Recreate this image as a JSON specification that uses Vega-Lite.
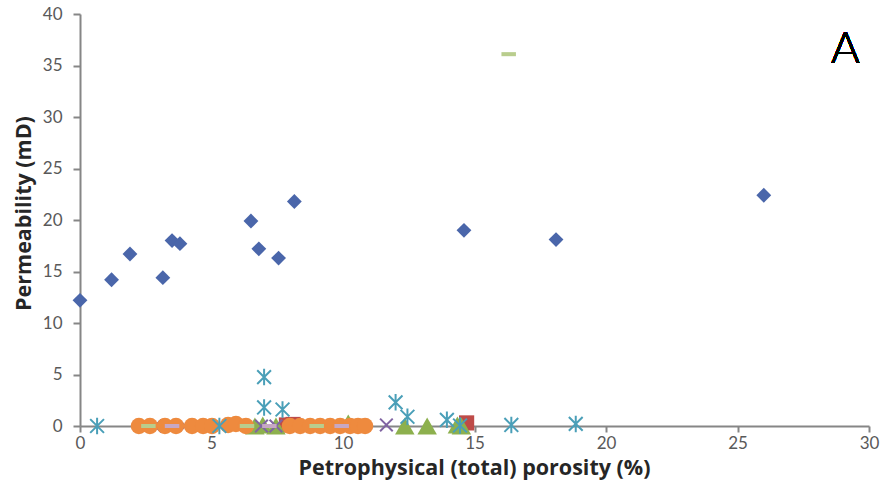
{
  "$schema": "https://vega.github.io/schema/vega-lite/v6.json",
  "width": 789,
  "height": 412,
  "autosize": {"type": "none"},
  "padding": {"left": 80, "top": 14, "right": 12, "bottom": 73},
  "background": "white",
  "config": {"view": {"stroke": null}, "font": "Lato"},
  "data": {"values": [
    {"s": "D", "x": 0.0, "y": 12.2},
    {"s": "D", "x": 1.2, "y": 14.2},
    {"s": "D", "x": 1.9, "y": 16.7},
    {"s": "D", "x": 3.15, "y": 14.4},
    {"s": "D", "x": 3.5, "y": 18.0},
    {"s": "D", "x": 3.8, "y": 17.7},
    {"s": "D", "x": 6.5, "y": 19.9},
    {"s": "D", "x": 6.8, "y": 17.2},
    {"s": "D", "x": 7.55, "y": 16.3},
    {"s": "D", "x": 8.15, "y": 21.8},
    {"s": "D", "x": 14.6, "y": 19.0},
    {"s": "D", "x": 18.1, "y": 18.1},
    {"s": "D", "x": 26.0, "y": 22.4},
    {"s": "Sq", "x": 7.85, "y": 0.1},
    {"s": "Sq", "x": 8.1, "y": 0.15},
    {"s": "Sq", "x": 14.7, "y": 0.3},
    {"s": "T", "x": 6.65, "y": 0.0},
    {"s": "T", "x": 6.95, "y": 0.1},
    {"s": "T", "x": 7.45, "y": 0.0},
    {"s": "T", "x": 10.2, "y": 0.3},
    {"s": "T", "x": 12.35, "y": 0.0},
    {"s": "T", "x": 13.2, "y": 0.0},
    {"s": "T", "x": 14.35, "y": 0.1},
    {"s": "T", "x": 14.5, "y": 0.0},
    {"s": "X", "x": 2.85, "y": 0.0},
    {"s": "X", "x": 4.0, "y": 0.0},
    {"s": "X", "x": 4.55, "y": 0.0},
    {"s": "X", "x": 6.9, "y": 0.0},
    {"s": "X", "x": 7.45, "y": 0.0},
    {"s": "X", "x": 11.65, "y": 0.1},
    {"s": "Ast", "x": 0.65, "y": 0.0},
    {"s": "Ast", "x": 5.3, "y": 0.0},
    {"s": "Ast", "x": 7.0, "y": 4.75},
    {"s": "Ast", "x": 7.0, "y": 1.8},
    {"s": "Ast", "x": 7.7, "y": 1.6},
    {"s": "Ast", "x": 12.0, "y": 2.3},
    {"s": "Ast", "x": 12.45, "y": 0.9},
    {"s": "Ast", "x": 13.95, "y": 0.6},
    {"s": "Ast", "x": 14.45, "y": 0.05},
    {"s": "Ast", "x": 16.4, "y": 0.1},
    {"s": "Ast", "x": 18.85, "y": 0.2},
    {"s": "C", "x": 2.24, "y": 0.0},
    {"s": "C", "x": 2.66, "y": 0.0},
    {"s": "C", "x": 3.23, "y": 0.0},
    {"s": "C", "x": 3.65, "y": 0.0},
    {"s": "C", "x": 4.26, "y": 0.0},
    {"s": "C", "x": 4.68, "y": 0.0},
    {"s": "C", "x": 5.02, "y": 0.0},
    {"s": "C", "x": 5.63, "y": 0.1},
    {"s": "C", "x": 5.93, "y": 0.2},
    {"s": "C", "x": 6.31, "y": 0.0},
    {"s": "C", "x": 7.98, "y": 0.0},
    {"s": "C", "x": 8.37, "y": 0.0},
    {"s": "C", "x": 8.75, "y": 0.0},
    {"s": "C", "x": 9.13, "y": 0.0},
    {"s": "C", "x": 9.51, "y": 0.0},
    {"s": "C", "x": 9.89, "y": 0.0},
    {"s": "C", "x": 10.27, "y": 0.0},
    {"s": "C", "x": 10.57, "y": 0.0},
    {"s": "C", "x": 10.84, "y": 0.0},
    {"s": "G", "x": 2.6, "y": 0.0},
    {"s": "G", "x": 6.35, "y": 0.0},
    {"s": "G", "x": 9.0, "y": 0.0},
    {"s": "G", "x": 16.3, "y": 36.1},
    {"s": "P", "x": 3.5, "y": 0.0},
    {"s": "P", "x": 7.2, "y": 0.0},
    {"s": "P", "x": 9.95, "y": 0.0}
  ]},
  "encoding": {
    "x": {"field": "x", "type": "quantitative",
      "scale": {"domain": [0, 30], "nice": false, "zero": false},
      "axis": {"values": [0, 5, 10, 15, 20, 25, 30], "grid": false, "labelFlush": false,
        "title": "Petrophysical (total) porosity (%)",
        "domainColor": "#868686", "domainWidth": 2, "tickColor": "#868686", "tickWidth": 2, "tickSize": 6,
        "labelFont": "Lato", "labelFontSize": 17, "labelColor": "#595959", "labelPadding": 3,
        "titleFont": "Open Sans", "titleFontSize": 21.5, "titleFontWeight": "bold", "titleColor": "#262626",
        "titleX": 394, "titleY": 42, "titleBaseline": "middle", "titleAlign": "center"}},
    "y": {"field": "y", "type": "quantitative",
      "scale": {"domain": [0, 40], "nice": false, "zero": false},
      "axis": {"values": [0, 5, 10, 15, 20, 25, 30, 35, 40], "grid": false, "labelFlush": false,
        "title": "Permeability (mD)",
        "domainColor": "#868686", "domainWidth": 2, "tickColor": "#868686", "tickWidth": 2, "tickSize": 7,
        "labelFont": "Lato", "labelFontSize": 17, "labelColor": "#595959", "labelPadding": 11,
        "titleFont": "Open Sans", "titleFontSize": 21.5, "titleFontWeight": "bold", "titleColor": "#262626",
        "titleX": -56, "titleY": 199, "titleAngle": 270, "titleBaseline": "middle", "titleAlign": "center"}},
    "color": {"field": "s", "type": "nominal", "legend": null,
      "scale": {"domain": ["D", "Sq", "T", "X", "Ast", "C", "G", "P"],
        "range": ["#4A66AA", "#BE4B48", "#8DB04E", "#8064A2", "#4A9FB8", "#EE8A3E", "#B9CD8D", "#C7A8C3"]}}
  },
  "layer": [
    {"transform": [{"filter": "datum.s === 'D'"}],
      "mark": {"type": "point", "filled": true, "opacity": 1, "shape": "diamond", "size": 220}},
    {"transform": [{"filter": "datum.s === 'Sq'"}],
      "mark": {"type": "point", "filled": true, "opacity": 1, "shape": "square", "size": 230}},
    {"transform": [{"filter": "datum.s === 'T'"}],
      "mark": {"type": "point", "filled": true, "opacity": 1, "shape": "triangle-up", "size": 380}},
    {"transform": [{"filter": "datum.s === 'X'"}],
      "mark": {"type": "point", "filled": false, "opacity": 1, "strokeWidth": 2, "shape": "M-1,-1L1,1M-1,1L1,-1", "size": 160}},
    {"transform": [{"filter": "datum.s === 'C'"}],
      "mark": {"type": "point", "filled": true, "opacity": 1, "shape": "circle", "size": 270}},
    {"transform": [{"filter": "datum.s === 'Ast'"}],
      "mark": {"type": "point", "filled": false, "opacity": 1, "strokeWidth": 2, "shape": "M-1,-1L1,1M-1,1L1,-1M0,-1.2L0,1.2", "size": 190}},
    {"transform": [{"filter": "datum.s === 'G' || datum.s === 'P'"}],
      "mark": {"type": "point", "filled": true, "opacity": 1, "shape": "M-1,-0.28H1V0.28H-1Z", "size": 210}},
    {
      "mark": {"type": "text", "text": "A", "fontSize": 44, "font": "Lato", "fontWeight": 300, "color": "#000000", "align": "center", "baseline": "middle"},
      "encoding": {
        "x": {"datum": 29.1, "type": "quantitative"},
        "y": {"datum": 36.5, "type": "quantitative"},
        "color": {"value": "#000000"}
      }
    }
  ]
}
